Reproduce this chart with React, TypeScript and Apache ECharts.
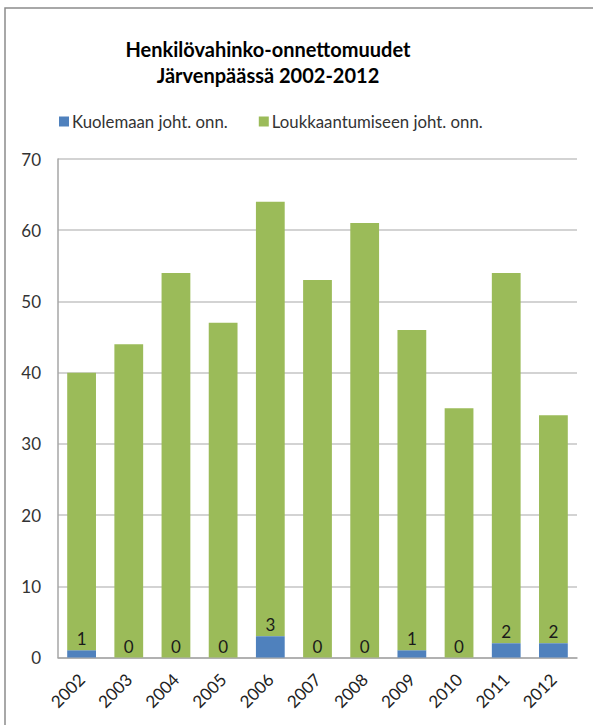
import React, { useEffect, useRef } from "react";
import * as echarts from "echarts";

const years = ["2002", "2003", "2004", "2005", "2006", "2007", "2008", "2009", "2010", "2011", "2012"];
const deaths = [1, 0, 0, 0, 3, 0, 0, 1, 0, 2, 2];
const injuries = [39, 44, 54, 47, 61, 53, 61, 45, 35, 52, 32];
const yTicks = [0, 10, 20, 30, 40, 50, 60, 70];

const FONT = "Lato, 'Open Sans', sans-serif";

export default function App() {
  const ref = useRef<HTMLDivElement>(null);
  useEffect(() => {
    document.body.style.margin = "0";
    const chart = echarts.init(ref.current!, null, { renderer: "svg" });
    chart.setOption({
      animation: false,
      backgroundColor: "#ffffff",
      textStyle: { fontFamily: FONT },
      graphic: [
        {
          type: "rect",
          shape: { x: 5, y: 8, width: 700, height: 800 },
          style: { fill: "none", stroke: "#8c8c8c", lineWidth: 1.5 },
          silent: true,
          z: -1,
        },
      ],
      title: {
        text: "Henkilövahinko-onnettomuudet\nJärvenpäässä 2002-2012",
        left: 263,
        textAlign: "center",
        top: 31,
        textStyle: { fontFamily: FONT, fontSize: 20, fontWeight: "bold", color: "#000", lineHeight: 26 },
      },
      legend: {
        left: 54,
        top: 108,
        itemWidth: 10,
        itemHeight: 10,
        itemGap: 31,
        icon: "rect",
        textStyle: { fontFamily: FONT, fontSize: 16.8, color: "#333", padding: [0, 0, 0, -2] },
        data: ["Kuolemaan joht. onn.", "Loukkaantumiseen joht. onn."],
      },
      grid: { left: 58, right: 16, top: 159, bottom: 67.5, containLabel: false },
      xAxis: {
        type: "category",
        data: years,
        axisLine: { lineStyle: { color: "#a6a6a6", width: 1.5 } },
        axisTick: { show: false },
        axisLabel: { rotate: 45, fontSize: 17, color: "#222", fontFamily: FONT, margin: 19 },
      },
      yAxis: {
        type: "value",
        min: 0,
        max: 70,
        interval: 10,
        axisLine: { show: true, lineStyle: { color: "#a6a6a6", width: 1.5 } },
        axisTick: { show: false },
        splitLine: { lineStyle: { color: "#c4c4c4", width: 1.5 } },
        axisLabel: {
          fontSize: 17,
          color: "#333",
          fontFamily: FONT,
          margin: 17,
          formatter: (v: number) => (yTicks.includes(v) ? String(v) : ""),
        },
      },
      series: [
        {
          name: "Kuolemaan joht. onn.",
          type: "bar",
          stack: "total",
          data: deaths,
          barWidth: "61%",
          itemStyle: { color: "#4F81BD" },
          label: {
            show: true,
            position: "top",
            distance: 3,
            fontSize: 17,
            color: "#1a1a1a",
            fontFamily: FONT,
          },
          z: 3,
        },
        {
          name: "Loukkaantumiseen joht. onn.",
          type: "bar",
          stack: "total",
          data: injuries,
          barWidth: "61%",
          itemStyle: { color: "#9BBB59" },
          z: 2,
        },
      ],
    });
    return () => chart.dispose();
  }, []);
  return <div ref={ref} style={{ width: 593, height: 725 }} />;
}
